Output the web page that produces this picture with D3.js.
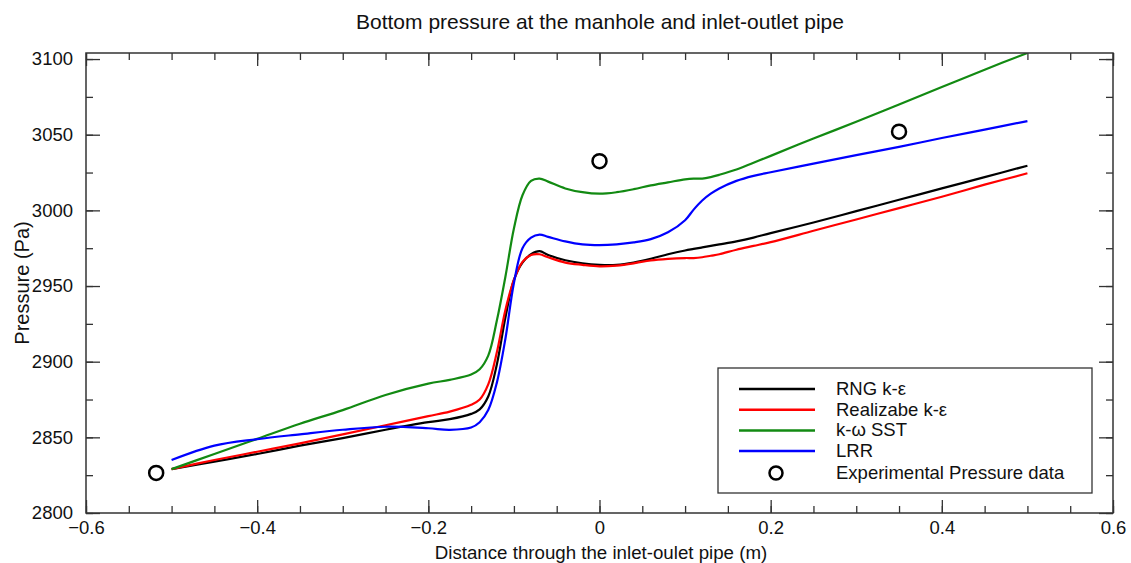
<!DOCTYPE html>
<html>
<head>
<meta charset="utf-8">
<script src="https://cdn.jsdelivr.net/npm/d3@7"></script>
<style>
  body { margin: 0; background: #fff; }
  svg { font-family: "Liberation Sans", Arial, sans-serif; }
</style>
</head>
<body>
<svg id="chart" width="1131" height="563"></svg>
<script>
// valores
const distance = [-0.5, -0.45, -0.4, -0.35, -0.3, -0.25, -0.2, -0.175, -0.15, -0.14, -0.13, -0.12, -0.11, -0.1,
  -0.09, -0.08, -0.07, -0.06, -0.04, -0.02, 0, 0.02, 0.04, 0.06, 0.08, 0.1, 0.11, 0.12, 0.13, 0.14,
  0.16, 0.18, 0.2, 0.25, 0.3, 0.35, 0.4, 0.45, 0.5];

const rng = [2829, 2834, 2839, 2844.5, 2849.5, 2855, 2860, 2862, 2865.5, 2868.5, 2877, 2898, 2929, 2954,
  2965.5, 2971, 2973, 2970.5, 2967, 2965, 2964, 2964, 2965.5, 2968, 2971, 2973.5, 2974.5, 2975.5, 2976.5, 2977.5,
  2979.5, 2982, 2985, 2992, 2999.5, 3007, 3014.5, 3022, 3029.5];

const realizable = [2829, 2835, 2840.5, 2846, 2852, 2858, 2864, 2867, 2871.5, 2875, 2885, 2906, 2934, 2954,
  2966, 2970.5, 2971, 2969, 2965.5, 2964, 2963, 2963.5, 2965, 2967, 2968, 2968.5, 2968.5, 2969, 2970, 2971,
  2974, 2976.5, 2979, 2986.5, 2994, 3001.5, 3009, 3017, 3024.5];

const sst = [2829, 2839, 2849, 2859, 2868, 2878, 2885.5, 2888, 2891.5, 2895, 2904, 2927, 2956, 2988,
  3010, 3019.5, 3021, 3019, 3014.5, 3012, 3011, 3012, 3014, 3016.5, 3018.5, 3020.5, 3021, 3021, 3022, 3023.5,
  3027, 3031.5, 3036, 3047.5, 3058.5, 3070, 3081.5, 3093, 3104];

const lrr = [2835, 2844.5, 2848.8, 2852, 2855, 2857, 2856, 2855, 2856.5, 2860, 2868, 2886, 2915, 2952,
  2975, 2982, 2984, 2982.5, 2979.5, 2977.5, 2977, 2977.5, 2978.8, 2981, 2985.5, 2993.5, 3000.5, 3006.5, 3011, 3014.5,
  3019.5, 3022.8, 3025.2, 3030.9, 3036.5, 3042, 3047.8, 3053.4, 3059];

const expX = [-0.518, 0, 0.35];
const expY = [2826.5, 3032.5, 3052];

const seriesNames = ['RNG k-ε', 'Realizabe k-ε', 'k-ω SST', 'LRR'];
const seriesColors = ['#000000', '#ff0000', '#128a12', '#0000ff'];
const seriesValues = [rng, realizable, sst, lrr];
const expName = 'Experimental Pressure data';

const xTicks = [-0.6, -0.4, -0.2, 0, 0.2, 0.4, 0.6];
const yTicks = [2800, 2850, 2900, 2950, 3000, 3050, 3100];

const margens = { left: 86, right: 18, top: 53, bottom: 50 };

function drawChart() {
    const svg = d3.select('#chart');
    const width = +svg.attr('width') - margens.left - margens.right;
    const height = +svg.attr('height') - margens.top - margens.bottom;

    const x = d3.scaleLinear().domain([-0.6, 0.6]).range([0, width]);
    const y = d3.scaleLinear().domain([2800, 3104]).range([height, 0]);

    const g = svg.append('g').attr('transform', `translate(${margens.left}, ${margens.top})`);

    g.append('clipPath').attr('id', 'clip')
        .append('rect').attr('width', width).attr('height', height);

    // ticks secundários e principais
    const xMinor = d3.range(-0.6, 0.6001, 0.05).map(v => +v.toFixed(2));
    const yMinor = d3.range(2800, 3104, 25);

    const axisStyle = sel => {
        sel.select('.domain').remove();
        sel.selectAll('line').attr('stroke', '#333').attr('stroke-width', 1.3);
        sel.selectAll('text').attr('font-size', 18.5).attr('fill', '#111');
    };

    g.append('g').attr('transform', `translate(0, ${height})`)
        .call(d3.axisTop(x).tickValues(xMinor).tickSize(7).tickFormat('')).call(axisStyle);
    g.append('g').attr('transform', `translate(0, ${height})`)
        .call(d3.axisTop(x).tickValues(xTicks).tickSize(13).tickFormat('')).call(axisStyle);
    g.append('g').attr('transform', `translate(0, ${height})`)
        .call(d3.axisBottom(x).tickValues(xTicks).tickSize(0).tickPadding(8)
            .tickFormat(d => d === 0 ? '0' : d3.format('.1f')(d).replace('-', '\u2212')))
        .call(axisStyle);
    g.append('g')
        .call(d3.axisBottom(x).tickValues(xMinor).tickSize(7).tickFormat('')).call(axisStyle);
    g.append('g')
        .call(d3.axisBottom(x).tickValues(xTicks).tickSize(13).tickFormat('')).call(axisStyle);

    g.append('g')
        .call(d3.axisRight(y).tickValues(yMinor).tickSize(7).tickFormat('')).call(axisStyle);
    g.append('g')
        .call(d3.axisRight(y).tickValues(yTicks).tickSize(14).tickFormat('')).call(axisStyle);
    g.append('g')
        .call(d3.axisLeft(y).tickValues(yTicks).tickSize(0).tickPadding(13).tickFormat(d3.format('d')))
        .call(axisStyle);
    g.append('g').attr('transform', `translate(${width}, 0)`)
        .call(d3.axisLeft(y).tickValues(yMinor).tickSize(7).tickFormat('')).call(axisStyle);
    g.append('g').attr('transform', `translate(${width}, 0)`)
        .call(d3.axisLeft(y).tickValues(yTicks).tickSize(14).tickFormat('')).call(axisStyle);

    // curvas
    const line = d3.line()
        .x(d => x(d[0]))
        .y(d => y(d[1]))
        .curve(d3.curveCatmullRom.alpha(0.5));

    const plot = g.append('g').attr('clip-path', 'url(#clip)');
    seriesValues.forEach((vals, i) => {
        plot.append('path')
            .datum(distance.map((d, j) => [d, vals[j]]))
            .attr('d', line)
            .attr('fill', 'none')
            .attr('stroke', seriesColors[i])
            .attr('stroke-width', 2.2);
    });

    g.selectAll('circle.exp')
        .data(expX.map((d, i) => [d, expY[i]]))
        .enter()
        .append('circle')
        .attr('class', 'exp')
        .attr('cx', d => x(d[0]))
        .attr('cy', d => y(d[1]))
        .attr('r', 7)
        .attr('fill', 'none')
        .attr('stroke', '#000')
        .attr('stroke-width', 2.5);

    // moldura
    g.append('rect')
        .attr('width', width).attr('height', height)
        .attr('fill', 'none').attr('stroke', '#333').attr('stroke-width', 1.5);

    // legenda
    const leg = svg.append('g').attr('transform', 'translate(718, 368)');
    leg.append('rect').attr('width', 374).attr('height', 125)
        .attr('fill', '#fff').attr('stroke', '#333').attr('stroke-width', 1.3);
    seriesNames.forEach((name, i) => {
        const ly = 21 + i * 20.7;
        leg.append('line').attr('x1', 21).attr('x2', 97).attr('y1', ly).attr('y2', ly)
            .attr('stroke', seriesColors[i]).attr('stroke-width', 2.5);
        leg.append('text').attr('x', 118).attr('y', ly + 6).attr('font-size', 18.5).attr('fill', '#111').text(name);
    });
    leg.append('circle').attr('cx', 58).attr('cy', 105).attr('r', 6.5)
        .attr('fill', 'none').attr('stroke', '#000').attr('stroke-width', 2.5);
    leg.append('text').attr('x', 118).attr('y', 111).attr('font-size', 18.5).attr('fill', '#111').text(expName);

    // títulos
    svg.append('text').attr('x', 600).attr('y', 29).attr('text-anchor', 'middle')
        .attr('font-size', 21).attr('fill', '#111')
        .text('Bottom pressure at the manhole and inlet-outlet pipe');
    svg.append('text').attr('x', 601).attr('y', 559).attr('text-anchor', 'middle')
        .attr('font-size', 18.7).attr('fill', '#111')
        .text('Distance through the inlet-oulet pipe (m)');
    svg.append('text').attr('transform', 'translate(29, 283) rotate(-90)').attr('text-anchor', 'middle')
        .attr('font-size', 20).attr('fill', '#111')
        .text('Pressure (Pa)');
}

drawChart();
</script>
</body>
</html>
